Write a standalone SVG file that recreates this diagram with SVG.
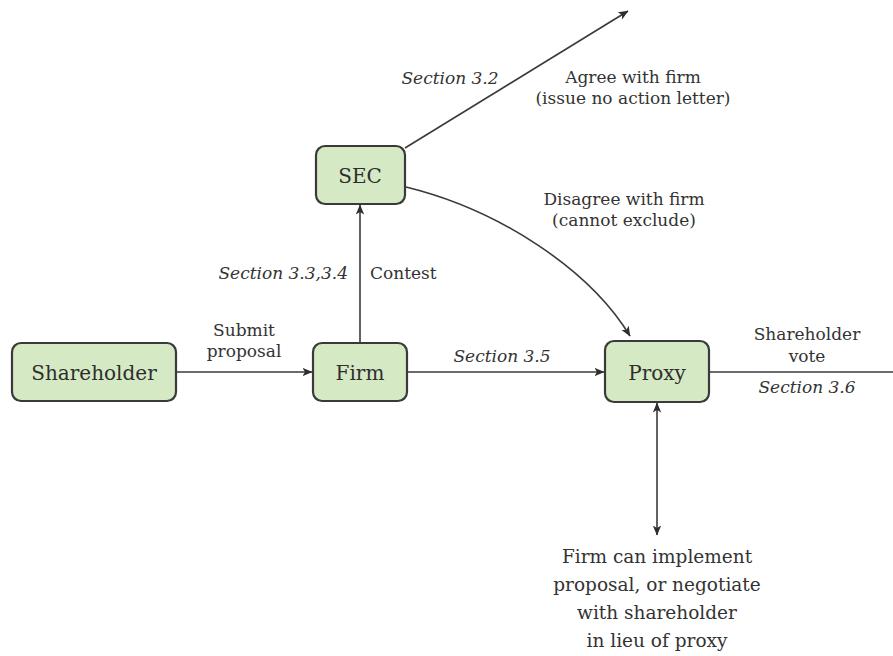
<svg xmlns="http://www.w3.org/2000/svg" width="893" height="656" viewBox="0 0 893 656">
<style>
.node rect{fill:#d5e9c5;stroke:#3a3a3a;stroke-width:2.2}
.nt{font-family:"DejaVu Serif","Liberation Serif",serif;font-size:20px;fill:#2e2e2e;text-anchor:middle}
.lb{font-family:"DejaVu Serif","Liberation Serif",serif;font-size:17px;fill:#333;text-anchor:middle}
.it{font-style:italic}
.bt{font-size:18.5px}
#connectors path,#connectors line{fill:none;stroke:#3a3a3a;stroke-width:1.6}
</style>
<defs>
<marker id="ah" viewBox="0 0 10 10" refX="9.5" refY="5" markerWidth="10" markerHeight="10" markerUnits="userSpaceOnUse" orient="auto-start-reverse">
<path d="M0,0.8 L10,5 L0,9.2 L2.5,5 Z" fill="#2e2e2e"/>
</marker>
</defs>
<rect width="893" height="656" fill="#fff"/>
<g id="connectors">
<line x1="176" y1="372" x2="312" y2="372" marker-end="url(#ah)"/>
<line x1="407" y1="372" x2="604" y2="372" marker-end="url(#ah)"/>
<line x1="360" y1="343" x2="360" y2="205" marker-end="url(#ah)"/>
<line x1="405" y1="148" x2="628" y2="11" marker-end="url(#ah)"/>
<path d="M406,187 C500,210 590,270 630,336" marker-end="url(#ah)"/>
<line x1="709" y1="372" x2="893" y2="372"/>
<line x1="657" y1="403" x2="657" y2="535" marker-start="url(#ah)" marker-end="url(#ah)"/>
</g>
<g id="shareholder" class="node"><rect x="12" y="343" width="164" height="58" rx="9"/><text class="nt" x="94" y="380">Shareholder</text></g>
<g id="firm" class="node"><rect x="313" y="343" width="94" height="58" rx="9"/><text class="nt" x="360" y="380">Firm</text></g>
<g id="sec" class="node"><rect x="316" y="146" width="89" height="58" rx="9"/><text class="nt" x="360" y="183">SEC</text></g>
<g id="proxy" class="node"><rect x="605" y="341" width="104" height="61" rx="9"/><text class="nt" x="657" y="380">Proxy</text></g>
<g id="labels">
<text class="lb" x="244" y="336">Submit</text>
<text class="lb" x="244" y="357">proposal</text>
<text class="lb it" x="502" y="362">Section 3.5</text>
<text class="lb it" x="348" y="279" text-anchor="end" style="text-anchor:end">Section 3.3,3.4</text>
<text class="lb" x="370" y="279" style="text-anchor:start">Contest</text>
<text class="lb it" x="450" y="84">Section 3.2</text>
<text class="lb" x="633" y="83">Agree with firm</text>
<text class="lb" x="633" y="104">(issue no action letter)</text>
<text class="lb" x="624" y="205">Disagree with firm</text>
<text class="lb" x="624" y="226">(cannot exclude)</text>
<text class="lb" x="807" y="340">Shareholder</text>
<text class="lb" x="807" y="362">vote</text>
<text class="lb it" x="807" y="393">Section 3.6</text>
<text class="lb bt" x="657" y="563">Firm can implement</text>
<text class="lb bt" x="657" y="591">proposal, or negotiate</text>
<text class="lb bt" x="657" y="619">with shareholder</text>
<text class="lb bt" x="657" y="647">in lieu of proxy</text>
</g>
</svg>
